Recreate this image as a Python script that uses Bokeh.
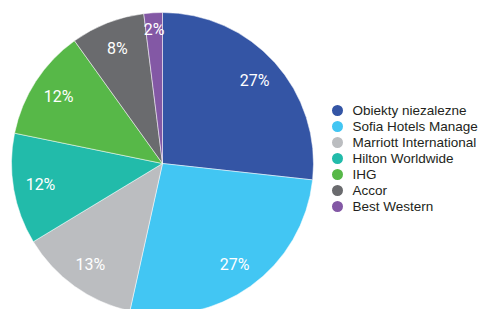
import math
from bokeh.plotting import figure
from bokeh.models import Range1d, ColumnDataSource
from bokeh.core.properties import value
from bokeh.embed import file_html
from bokeh.resources import INLINE

categories = ["Obiekty niezalezne", "Sofia Hotels Manage", "Marriott International",
              "Hilton Worldwide", "IHG", "Accor", "Best Western"]
shares = [27, 27, 13, 12, 12, 8, 2]
colors = ["#3455A5", "#42C6F3", "#BBBDC0", "#22BBAA", "#57B848", "#6A6B6E", "#8358A5"]

W, H = 485, 309
p = figure(width=W, height=H, output_backend="svg", toolbar_location=None,
           x_range=Range1d(0, W), y_range=Range1d(0, H), min_border=0)
p.axis.visible = False
p.grid.visible = False
p.outline_line_color = None
p.background_fill_color = "white"

cx, cy, R = 162, H - 163, 151
total = sum(shares)
starts, ends, lx, ly, txt = [], [], [], [], []
cum = 0
for v in shares:
    a0 = math.pi / 2 - 2 * math.pi * cum / total
    cum += v
    a1 = math.pi / 2 - 2 * math.pi * cum / total
    starts.append(a0)
    ends.append(a1)
    mid = (a0 + a1) / 2
    rr = 0.82 * R if v > 4 else 0.89 * R
    lx.append(cx + rr * math.cos(mid))
    ly.append(cy + rr * math.sin(mid))
    txt.append(f"{v}%")

src = ColumnDataSource(dict(start=starts, end=ends, color=colors, lx=lx, ly=ly, txt=txt))
p.wedge(x=cx, y=cy, radius=R, start_angle="start", end_angle="end", direction="clock",
        fill_color="color", line_color="white", line_width=0.5, source=src)
p.text(x="lx", y="ly", text="txt", source=src, text_color="white",
       text_font=value("Roboto"), text_font_size="16px", text_align="center",
       text_baseline="middle")

# legend
leg_y = [H - (110 + 16 * i) for i in range(len(categories))]
lsrc = ColumnDataSource(dict(y=leg_y, name=categories, color=colors))
p.scatter(x=337, y="y", size=11, marker="circle", fill_color="color", line_color=None, source=lsrc)
p.text(x=352, y="y", text="name", source=lsrc, text_color="#231F20",
       text_font=value("Liberation Sans"), text_font_size="13.5px", text_baseline="middle")

open("out.html", "w").write(file_html(p, INLINE))
